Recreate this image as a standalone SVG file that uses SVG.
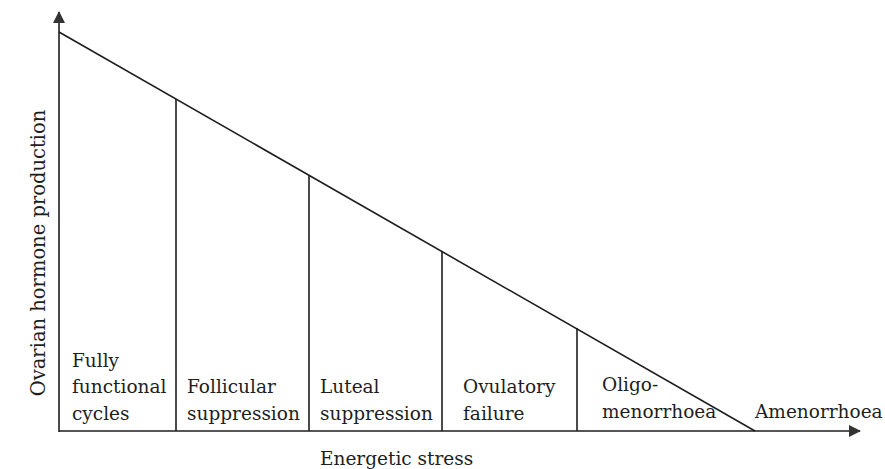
<svg xmlns="http://www.w3.org/2000/svg" width="885" height="469" viewBox="0 0 885 469">
<style>
.ln{stroke:#1e1e1e;stroke-width:1.6;fill:none}
text{font-family:"DejaVu Serif","Liberation Serif",serif;font-size:18.5px;fill:#1e1e1e}
.yl{font-size:19.5px}
</style>
<defs>
<marker id="ah" viewBox="0 0 12 12" refX="11" refY="6" markerWidth="12" markerHeight="12" markerUnits="userSpaceOnUse" orient="auto">
<path d="M0,0 L12,6 L0,12 Z" fill="#333"/>
</marker>
</defs>
<rect width="885" height="469" fill="#fff"/>
<g id="connectors">
<line class="ln" x1="59" y1="432" x2="59" y2="12" marker-end="url(#ah)"/>
<line class="ln" x1="59" y1="431" x2="860" y2="431" marker-end="url(#ah)"/>
<line class="ln" x1="59" y1="32" x2="755" y2="431"/>
<line class="ln" x1="176" y1="99" x2="176" y2="431"/>
<line class="ln" x1="309" y1="175" x2="309" y2="431"/>
<line class="ln" x1="442" y1="251" x2="442" y2="431"/>
<line class="ln" x1="577" y1="328" x2="577" y2="431"/>
</g>
<g id="fully"><text x="72" y="367">Fully</text><text x="72" y="393">functional</text><text x="72" y="420">cycles</text></g>
<g id="follicular"><text x="187" y="393">Follicular</text><text x="187" y="420">suppression</text></g>
<g id="luteal"><text x="320" y="393">Luteal</text><text x="320" y="420">suppression</text></g>
<g id="ovulatory"><text x="463" y="393">Ovulatory</text><text x="463" y="420">failure</text></g>
<g id="oligo"><text x="602" y="391">Oligo-</text><text x="602" y="418">menorrhoea</text></g>
<g id="amenorrhoea"><text x="755" y="418">Amenorrhoea</text></g>
<g id="xlabel"><text x="320" y="465">Energetic stress</text></g>
<g id="ylabel"><text class="yl" transform="translate(45,253) rotate(-90)" text-anchor="middle">Ovarian hormone production</text></g>
</svg>
